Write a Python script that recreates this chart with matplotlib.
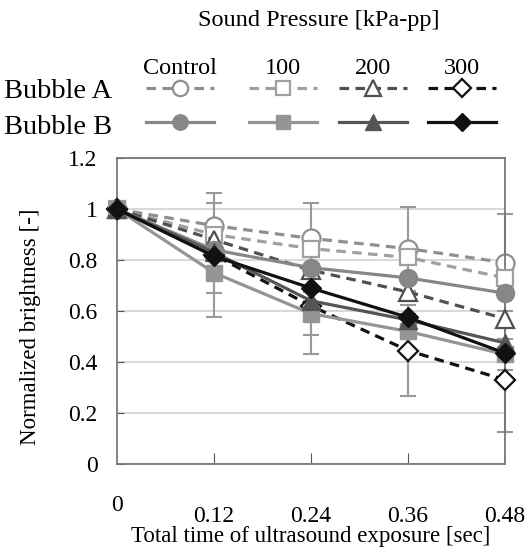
import numpy as np
import matplotlib.pyplot as plt
from matplotlib.lines import Line2D

plt.rcParams['font.family'] = ['Liberation Serif', 'DejaVu Serif']

# exposure time [sec]
t = [0, 0.12, 0.24, 0.36, 0.48]
pressures = ['Control', '100', '200', '300']

# normalized brightness
a_ctrl = [1.0, 0.935, 0.885, 0.845, 0.79]
a_100 = [1.0, 0.90, 0.845, 0.81, 0.73]
a_200 = [1.0, 0.88, 0.76, 0.675, 0.57]
a_300 = [1.0, 0.82, 0.62, 0.445, 0.33]
b_ctrl = [1.0, 0.84, 0.77, 0.73, 0.67]
b_100 = [1.0, 0.75, 0.59, 0.52, 0.43]
b_200 = [1.0, 0.83, 0.64, 0.565, 0.475]
b_300 = [1.0, 0.815, 0.69, 0.575, 0.435]

# error bars (only a few visible in the figure)
err_a_ctrl = [0, 0.09, 0.14, 0.165, 0.19]
err_a_300 = [0, 0.245, 0.19, 0.18, 0.205]
err_b_100 = [0, 0.08, 0.085, 0.07, 0.06]

# style per pressure: colour A, colour B, marker
cols_a = ['#8f8f8f', '#a0a0a0', '#505050', '#111111']
cols_b = ['#878787', '#959595', '#555555', '#111111']
marks = ['o', 's', '^', 'D']
msz = [13, 12, 13, 10.5]

fig = plt.figure(figsize=(5.32, 5.49), dpi=100)
ax = fig.add_axes([0.22, 0.155, 0.729, 0.557])

for yv, ev in [(a_ctrl, err_a_ctrl), (a_300, err_a_300), (b_100, err_b_100)]:
    eb = ax.errorbar(t, yv, yerr=ev, fmt='none', ecolor='#999999', elinewidth=1.5,
                     capsize=6, capthick=1.5, zorder=1)
    for c in eb.get_children():
        c.set_clip_on(False)

series_a = [a_ctrl, a_100, a_200, a_300]
series_b = [b_ctrl, b_100, b_200, b_300]
for i in range(4):
    ax.plot(t, series_a[i], linestyle=(0, (3, 2)), color=cols_a[i], lw=2.3, clip_on=False,
            marker=marks[i], ms=msz[i], mfc='white', mec=cols_a[i], mew=1.6, zorder=2 + i)
for i in range(4):
    ax.plot(t, series_b[i], linestyle='-', color=cols_b[i], lw=2.3, clip_on=False,
            marker=marks[i], ms=msz[i], mfc=cols_b[i], mec=cols_b[i], zorder=6 + i)

ax.set_xlim(0, 0.48)
ax.set_ylim(0, 1.2)
ax.set_yticks(np.arange(0, 1.21, 0.2))
ax.set_yticklabels(['0', '0.2', '0.4', '0.6', '0.8', '1', '1.2'], fontsize=17)
ax.yaxis.grid(True, color='#d9d9d9', lw=1.5)
ax.set_axisbelow(True)
ax.tick_params(axis='y', direction='in', length=5, color='#555555', pad=14)
ax.set_xticks([0.12, 0.24, 0.36])
ax.set_xticklabels([])
ax.tick_params(axis='x', direction='in', length=8, color='#555555')
for s in ax.spines.values():
    s.set_color('#777777')
    s.set_linewidth(1.3)

# x tick labels (the "0" sits a bit higher in the original)
ax.text(0, -0.135, '0', fontsize=17, ha='center', va='center', transform=ax.get_xaxis_transform())
for v in t[1:]:
    ax.text(v, -0.172, '%.2f' % v, fontsize=17, ha='center', va='center', transform=ax.get_xaxis_transform())
ax.text(0.5, -0.238, 'Total time of ultrasound exposure [sec]', fontsize=16.5, ha='center', va='center',
        transform=ax.transAxes)
fig.text(0.058, 0.405, 'Normalized brightness [-]', fontsize=16.5, rotation=90, ha='center', va='center')

# legend block at the top
fig.text(0.60, 0.962, 'Sound Pressure [kPa-pp]', fontsize=17.5, ha='center', va='center')
lx = [180, 283, 373, 462]
for i in range(4):
    x = lx[i] / 532
    fig.text(x, 0.876, pressures[i], fontsize=17.5, ha='center', va='center')
    fig.add_artist(Line2D([x - 0.064, x + 0.064], [0.839, 0.839], transform=fig.transFigure,
                          linestyle=(0, (3, 2)), color=cols_a[i], lw=2.3))
    fig.add_artist(Line2D([x], [0.839], transform=fig.transFigure, marker=marks[i], ms=msz[i] * 0.85,
                          mfc='white', mec=cols_a[i], mew=1.6, linestyle=''))
    fig.add_artist(Line2D([x - 0.064, x + 0.064], [0.778, 0.778], transform=fig.transFigure,
                          color=cols_b[i], lw=2.3))
    fig.add_artist(Line2D([x], [0.778], transform=fig.transFigure, marker=marks[i], ms=msz[i] * 0.85,
                          mfc=cols_b[i], mec=cols_b[i], linestyle=''))
fig.text(0.008, 0.833, 'Bubble A', fontsize=20.5, ha='left', va='center')
fig.text(0.008, 0.768, 'Bubble B', fontsize=20.5, ha='left', va='center')

fig.savefig('out.png', dpi=100)
